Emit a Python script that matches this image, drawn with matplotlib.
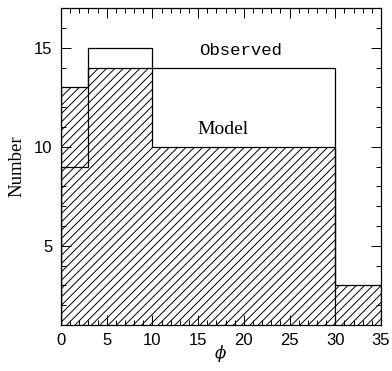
import numpy as np
import matplotlib.pyplot as plt
from matplotlib.ticker import MultipleLocator

plt.rcParams.update({'font.family': 'Liberation Sans', 'font.size': 12,
                     'hatch.linewidth': 0.7, 'mathtext.fontset': 'dejavuserif'})

# bin edges in phi and the counts in each bin
bin_edges = [0, 3, 10, 30, 35]
model_counts = [13, 14, 10, 3]      # hatched histogram
observed_counts = [9, 15, 14, 0]    # open histogram

def main():
    fig = plt.figure(figsize=(3.92, 3.71), dpi=100)
    ax = fig.add_axes([0.1556, 0.124, 0.8164, 0.854])

    edges = np.array(bin_edges, dtype=float)
    widths = np.diff(edges)

    # hatched histogram
    ax.bar(edges[:-1], model_counts, width=widths, align='edge',
           fill=False, hatch='////', linewidth=0, edgecolor='black')
    ax.stairs(model_counts, edges, color='black', linewidth=0.9)

    # open histogram
    ax.stairs(observed_counts, edges, color='black', linewidth=0.9)

    ax.text(19.6, 14.85, 'Observed', family='Liberation Mono', fontsize=12.5,
            ha='center', va='center')
    ax.text(17.7, 10.85, 'Model', family='Liberation Serif', fontsize=14,
            ha='center', va='center')

    ax.set_xlim(0, 35)
    ax.set_ylim(1, 17)
    ax.xaxis.set_major_locator(MultipleLocator(5))
    ax.xaxis.set_minor_locator(MultipleLocator(1))
    ax.yaxis.set_major_locator(MultipleLocator(5))
    ax.yaxis.set_minor_locator(MultipleLocator(1))
    ax.tick_params(which='both', direction='in', top=True, right=True, width=0.7)
    ax.tick_params(which='major', length=7, pad=6)
    ax.tick_params(which='minor', length=3.5)
    for s in ax.spines.values():
        s.set_linewidth(0.9)

    ax.set_xlabel(r'$\phi$', fontsize=12, va='center')
    ax.xaxis.set_label_coords(0.5, -0.09)
    ax.set_ylabel('Number', family='Liberation Serif', fontsize=13.5, labelpad=6)

    plt.savefig('out.png', dpi=100)

if __name__ == '__main__':
    main()
